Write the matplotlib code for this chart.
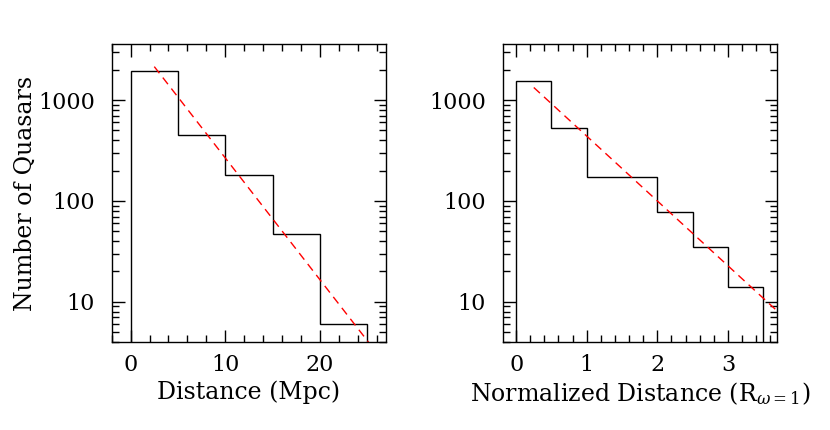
"""Quasar pair separation histograms with exponential fits."""

import matplotlib

matplotlib.use("Agg")
import matplotlib.pyplot as plt
import numpy as np
from matplotlib.ticker import FuncFormatter, LogLocator, MultipleLocator

# left panel: physical distance (Mpc)
mpc_edges = [0, 5, 10, 15, 20, 25]
mpc_counts = [1940, 447, 181, 47.5, 6.0]
mpc_fit_norm = 4300.0
mpc_fit_scale = 3.6
mpc_fit_range = [2.5, 27.0]

# right panel: normalized distance
norm_edges = [0, 0.5, 1.0, 1.5, 2.0, 2.5, 3.0, 3.5]
norm_counts = [1550, 527, 172, 172, 78.5, 35, 14.1]
norm_fit_norm = 1930.0
norm_fit_scale = 0.676
norm_fit_range = [0.25, 3.8]

y_ticks = [10, 100, 1000]

plt.rcParams["font.family"] = "DejaVu Serif"
plt.rcParams["mathtext.fontset"] = "dejavuserif"
plt.rcParams["font.size"] = 17


def _style_axis(axis, xlim, major, minor):
    axis.set_yscale("log")
    axis.set_xlim(*xlim)
    axis.set_ylim(4, 3600)
    axis.xaxis.set_major_locator(MultipleLocator(major))
    axis.xaxis.set_minor_locator(MultipleLocator(minor))
    axis.yaxis.set_minor_locator(LogLocator(base=10, subs=np.arange(2, 10), numticks=10))
    axis.yaxis.set_major_formatter(FuncFormatter(lambda v, _: f"{v:g}"))
    axis.set_yticks(y_ticks)
    axis.tick_params(which="both", direction="in", top=True, right=True,
                     width=1.0, colors="black", labelsize=16)
    axis.tick_params(which="major", length=9)
    axis.tick_params(axis="x", which="major", pad=9)
    axis.tick_params(axis="y", which="major", pad=12)
    axis.tick_params(which="minor", length=5)
    for spine in axis.spines.values():
        spine.set_linewidth(1.0)


def _panel(axis, edges, counts, fit_norm, fit_scale, fit_range):
    axis.stairs(counts, edges, baseline=1, color="black", linewidth=1.0)
    x = np.linspace(fit_range[0], fit_range[1], 200)
    axis.plot(x, fit_norm * np.exp(-x / fit_scale), color="red",
              linestyle=(0, (6, 4)), linewidth=1.0)


fig = plt.figure(figsize=(8.3, 4.3), dpi=100, facecolor="white")
left = fig.add_axes([0.1346, 0.2047, 0.3305, 0.693])
right = fig.add_axes([0.6057, 0.2047, 0.3308, 0.693])

_panel(left, mpc_edges, mpc_counts, mpc_fit_norm, mpc_fit_scale, mpc_fit_range)
_style_axis(left, (-2, 27), 10, 2)
left.set_xlabel("Distance (Mpc)", labelpad=3)
left.set_ylabel("Number of Quasars", labelpad=1)

_panel(right, norm_edges, norm_counts, norm_fit_norm, norm_fit_scale, norm_fit_range)
_style_axis(right, (-0.19, 3.7), 1, 0.2)
right.set_xlabel(r"Normalized Distance (R$_{\omega=1}$)", labelpad=3)

fig.savefig("out.png", dpi=100, facecolor="white")
